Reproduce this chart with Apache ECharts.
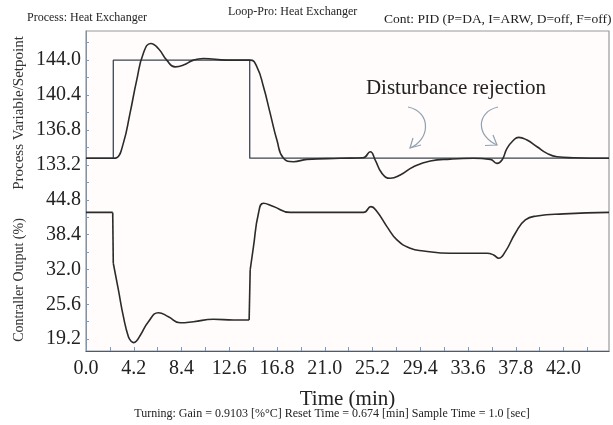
<!DOCTYPE html>
<html><head><meta charset="utf-8">
<script src="https://cdn.jsdelivr.net/npm/echarts@6/dist/echarts.min.js"></script>
<style>html,body{margin:0;padding:0;background:#fff}#c{width:613px;height:425px}</style>
</head><body><div id="c"></div>
<script>
// ---- data ----
var spTime  = [0, 2.4, 2.4, 14.4, 14.4, 46];
var spValue = [133.9, 133.9, 144.0, 144.0, 133.9, 133.9];

var pvTime  = [0, 2.4, 2.7, 3.28, 3.87, 4.46, 5.04, 5.7, 6.36, 7.1, 7.83, 8.57, 9.45, 10.33, 12.39, 14.44,
               15.03, 15.61, 16.2, 16.79, 17.37, 18.25, 19.43, 22.36, 24.38, 25.0, 25.44, 26.03, 26.76,
               27.64, 28.81, 30.28, 32.04, 34.07, 35.56, 36.15, 36.59, 37.03, 37.61, 38.05, 38.79,
               39.67, 40.55, 41.43, 42.87, 46.0];
var pvValue = [133.9, 133.9, 133.95, 135.43, 138.52, 141.94, 144.69, 145.72, 145.2, 144.0, 143.31, 143.49, 144.0, 144.17, 144.0, 144.0,
               143.31, 141.25, 138.52, 135.77, 133.89, 133.54, 133.78, 133.89, 133.95, 134.57, 133.71, 132.34, 131.83,
               132.17, 133.02, 133.61, 133.81, 133.89, 133.78, 133.37, 133.71, 134.92, 135.77, 136.05, 135.77,
               135.08, 134.40, 134.05, 133.95, 133.89];

var coTime  = [0, 2.35, 2.4, 2.85, 3.29, 3.73, 4.0, 4.2, 4.42, 4.75, 5.49, 6.37, 7.25, 8.27, 9.45, 11.21, 12.97, 14.35,
               14.44, 14.73, 15.17, 15.61, 16.49, 17.96, 24.41, 25.06, 25.59, 26.47, 27.35, 28.52, 29.69,
               32.04, 35.27, 35.85, 36.3, 36.88, 37.76, 38.64, 39.67, 42.02, 46.0];
var coValue = [42.5, 42.5, 33.14, 28.23, 23.31, 19.63, 18.75, 18.55, 18.8, 19.8, 22.39, 24.05, 23.31, 22.2, 22.39, 22.83, 22.7, 22.7,
               31.91, 36.2, 42.35, 44.19, 43.57, 42.5, 42.5, 43.57, 42.65, 39.88, 37.43, 35.9, 35.41,
               34.98, 34.98, 34.67, 34.06, 35.28, 38.67, 41.12, 41.85, 42.22, 42.5];
// indices in coTime where the controller output jumps (drawn as straight pieces)
var coJumps = [[1, 2], [17, 18]];

var xLabels     = [0, 4.2, 8.4, 12.6, 16.8, 21.0, 25.2, 29.4, 33.6, 37.8, 42.0];
var xTicks      = [0, 2.1, 4.2, 6.3, 8.4, 10.5, 12.6, 14.7, 16.8, 18.9, 21.0, 23.1, 25.2, 27.3, 29.4, 31.5, 33.6, 35.7, 37.8, 39.9, 42.0, 44.1];
var pvLabels    = [133.2, 136.8, 140.4, 144.0];
var pvTicks     = [131.4, 133.2, 135.0, 136.8, 138.6, 140.4, 142.2, 144.0, 145.8];
var coLabels    = [19.2, 25.6, 32.0, 38.4, 44.8];
var coTicks     = [19.2, 22.4, 25.6, 28.8, 32.0, 35.2, 38.4, 41.6, 44.8];

function pairs(t, v, a, b) {
  var out = [];
  for (var i = (a || 0); i <= (b === undefined ? t.length - 1 : b); i++) out.push([t[i], v[i]]);
  return out;
}

var FONT = '"Liberation Serif", "DejaVu Serif", serif';
var tickColor = '#6f9ccc';
var curveColor = '#2b2b2b';
var chart = echarts.init(document.getElementById('c'), null, {renderer: 'canvas'});

function yAxisCfg(idx, min, max, ticks, labels) {
  return {
    type: 'value', gridIndex: idx, min: min, max: max,
    axisLine: {show: true, lineStyle: {color: '#7f93a6', width: 1}},
    axisTick: {show: true, inside: true, length: 3, customValues: ticks, lineStyle: {color: tickColor}},
    axisLabel: {show: true, customValues: labels, color: '#222', fontFamily: FONT, fontSize: 20, margin: 5,
                padding: [5, 0, 0, 0],
                formatter: function (v) { return v.toFixed(1); }},
    splitLine: {show: false}
  };
}

function coLine(a, b, smooth) {
  return {type: 'line', name: 'Controller Output', xAxisIndex: 1, yAxisIndex: 1, data: pairs(coTime, coValue, a, b),
          showSymbol: false, smooth: smooth, lineStyle: {color: curveColor, width: 1.6}};
}

var coSeries = [
  coLine(0, coJumps[0][0], false),
  coLine(coJumps[0][0], coJumps[0][1], false),
  coLine(coJumps[0][1], coJumps[1][0], 0.5),
  coLine(coJumps[1][0], coJumps[1][1], false),
  coLine(coJumps[1][1], coTime.length - 1, 0.5)
];

var option = {
  animation: false,
  backgroundColor: '#ffffff',
  grid: [
    {left: 86, right: 4, top: 31, height: 151.5},
    {left: 86, right: 4, top: 182.5, bottom: 74}
  ],
  xAxis: [
    {type: 'value', gridIndex: 0, min: 0, max: 46, show: false},
    {type: 'value', gridIndex: 1, min: 0, max: 46,
     axisLine: {show: true, lineStyle: {color: '#4f5c68', width: 1.2}},
     axisTick: {show: true, inside: true, length: 4, customValues: xTicks, lineStyle: {color: tickColor}},
     axisLabel: {show: true, customValues: xLabels, color: '#222', fontFamily: FONT, fontSize: 20, margin: 8,
                 formatter: function (v) { return v.toFixed(1); }},
     splitLine: {show: false},
     name: 'Time (min)', nameLocation: 'middle', nameGap: 38,
     nameTextStyle: {color: '#222', fontFamily: FONT, fontSize: 21}}
  ],
  yAxis: [
    yAxisCfg(0, 131.4, 147.0, pvTicks, pvLabels),
    yAxisCfg(1, 17.0, 48.0, coTicks, coLabels)
  ],
  series: [
    {type: 'line', name: 'Setpoint', xAxisIndex: 0, yAxisIndex: 0, data: pairs(spTime, spValue),
     showSymbol: false, lineStyle: {color: '#3a4550', width: 1.3}},
    {type: 'line', name: 'Process Variable', xAxisIndex: 0, yAxisIndex: 0, data: pairs(pvTime, pvValue),
     showSymbol: false, smooth: 0.5, lineStyle: {color: curveColor, width: 1.6}}
  ].concat(coSeries),
  graphic: [
    {type: 'rect', z: -1, silent: true, shape: {x: 86, y: 31, width: 523, height: 320},
     style: {fill: '#fffcfb', stroke: '#9a9a9a', lineWidth: 1.2}},
    {type: 'text', x: 27, y: 18, style: {text: 'Process: Heat Exchanger', font: '12px ' + FONT, fill: '#222', verticalAlign: 'middle'}},
    {type: 'text', x: 228, y: 12, style: {text: 'Loop-Pro: Heat Exchanger', font: '12px ' + FONT, fill: '#222', verticalAlign: 'middle'}},
    {type: 'text', x: 384, y: 19, style: {text: 'Cont: PID (P=DA, I=ARW, D=off, F=off)', font: '13.5px ' + FONT, fill: '#222', verticalAlign: 'middle'}},
    {type: 'text', x: 19, y: 113, rotation: Math.PI / 2,
     style: {text: 'Process Variable/Setpoint', font: '15px ' + FONT, fill: '#333', align: 'center', verticalAlign: 'middle'}},
    {type: 'text', x: 19, y: 280, rotation: Math.PI / 2,
     style: {text: 'Contraller Output (%)', font: '14px ' + FONT, fill: '#333', align: 'center', verticalAlign: 'middle'}},
    {type: 'text', x: 456, y: 88, style: {text: 'Disturbance rejection', font: '21px ' + FONT, fill: '#222', align: 'center', verticalAlign: 'middle'}},
    {type: 'text', x: 332, y: 414, style: {text: 'Turning: Gain = 0.9103 [%\u00B0C] Reset Time = 0.674 [min] Sample Time = 1.0 [sec]', font: '12px ' + FONT, fill: '#222', align: 'center', verticalAlign: 'middle'}},
    {type: 'bezierCurve', silent: true, shape: {x1: 408, y1: 107, cpx1: 432, cpy1: 112, cpx2: 430, cpy2: 140, x2: 410, y2: 148},
     style: {stroke: '#8fa2b2', lineWidth: 1.2, fill: null}},
    {type: 'polyline', silent: true, shape: {points: [[413, 138], [410, 148], [421, 145]]},
     style: {stroke: '#8fa2b2', lineWidth: 1.2, fill: null}},
    {type: 'bezierCurve', silent: true, shape: {x1: 498, y1: 107, cpx1: 476, cpy1: 112, cpx2: 476, cpy2: 136, x2: 497, y2: 145},
     style: {stroke: '#8fa2b2', lineWidth: 1.2, fill: null}},
    {type: 'polyline', silent: true, shape: {points: [[485, 145.5], [497, 145], [493, 135]]},
     style: {stroke: '#8fa2b2', lineWidth: 1.2, fill: null}}
  ]
};
chart.setOption(option);
</script>
</body></html>
